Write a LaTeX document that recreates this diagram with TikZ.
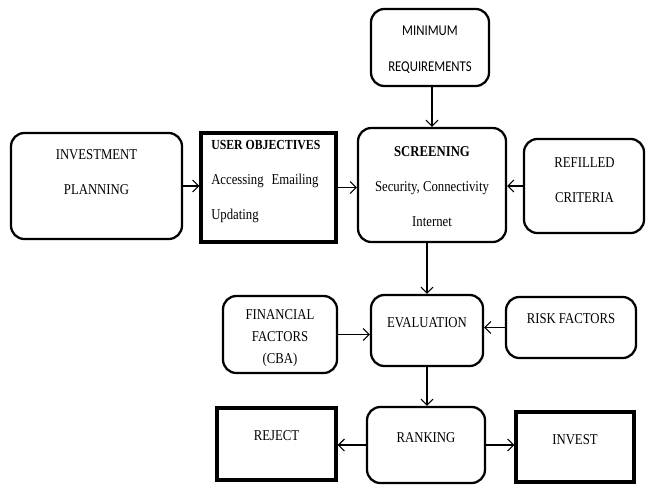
\documentclass[tikz,border=0pt]{standalone}
\usepackage{fontspec}
\setmainfont{Liberation Serif}[FakeStretch=0.85]
\newfontfamily\calibri{Carlito}[FakeStretch=0.85]
\usetikzlibrary{arrows.meta,fit}

\begin{document}
\begin{tikzpicture}[x=0.75pt,y=-0.75pt,
    rbox/.style={draw,rounded corners=10pt,line width=1.7pt,inner sep=0pt},
    sbox/.style={draw,line width=2.6pt,inner sep=0pt},
    txt/.style={font=\fontsize{11.25}{26.25}\selectfont,align=center,inner sep=0pt},
    conn/.style={line width=0.8pt,-{Straight Barb[length=4.5pt,width=9pt]}}]
  \useasboundingbox (0,0) rectangle (646,485);

  % top row
  \node[rbox,fit={(371,9) (489,86)}] (mr) {};
  \node[txt,font=\calibri\fontsize{11.25}{27}\selectfont] (mr-t) at (430,50) {MINIMUM\\REQUIREMENTS};

  \node[rbox,fit={(11,133) (182,239)}] (ip) {};
  \node[txt] (ip-t) at (96.5,172.5) {INVESTMENT\\PLANNING};

  \node[sbox,fit={(201,133) (336,242)}] (uo) {};
  \node[txt,align=left,anchor=west] (uo-t) at (211,181.5)
    {{\fontsize{10.4}{12}\selectfont\textbf{USER OBJECTIVES}}\\Accessing\hspace{6pt}Emailing\\Updating};

  \node[rbox,fit={(358,128) (506,242)}] (sc) {};
  \node[txt] (sc-t) at (432,187) {\textbf{SCREENING}\\Security, Connectivity\\Internet};

  \node[rbox,fit={(524,139) (644,233)}] (rc) {};
  \node[txt] (rc-t) at (584.5,180) {REFILLED\\CRITERIA};

  % middle row
  \node[rbox,fit={(223,296) (337,373)}] (ff) {};
  \node[txt,font=\fontsize{11.25}{16.5}\selectfont] (ff-t) at (280,338) {FINANCIAL\\FACTORS\\(CBA)};

  \node[rbox,fit={(371,295) (483,366)}] (ev) {};
  \node[txt] (ev-t) at (427,323) {EVALUATION};

  \node[rbox,fit={(506,297) (636,358)}] (rf) {};
  \node[txt] (rf-t) at (571,319) {RISK FACTORS};

  % bottom row
  \node[rbox,fit={(367,407) (485,483)}] (rk) {};
  \node[txt] (rk-t) at (426,438) {RANKING};

  \node[sbox,fit={(217,408) (336,480)}] (rj) {};
  \node[txt] (rj-t) at (276.5,436) {REJECT};

  \node[sbox,fit={(516,412) (634,482)}] (iv) {};
  \node[txt] (iv-t) at (575,440) {INVEST};

  % connectors
  \draw[conn] (mr.south -| sc.north) -- (sc.north);
  \draw[conn] (ip.east) -- (ip.east -| uo.west);
  \draw[conn] (uo.east) -- (uo.east -| sc.west);
  \draw[conn] (rc.west) -- (rc.west -| sc.east);
  \draw[conn] (sc.south -| ev.north) -- (ev.north);
  \draw[conn] (ff.east) -- (ff.east -| ev.west);
  \draw[conn] (rf.west) -- (rf.west -| ev.east);
  \draw[conn] (ev.south) -- (ev.south |- rk.north);
  \draw[conn] (rk.west) -- (rk.west -| rj.east);
  \draw[conn] (rk.east) -- (rk.east -| iv.west);
\end{tikzpicture}
\end{document}
